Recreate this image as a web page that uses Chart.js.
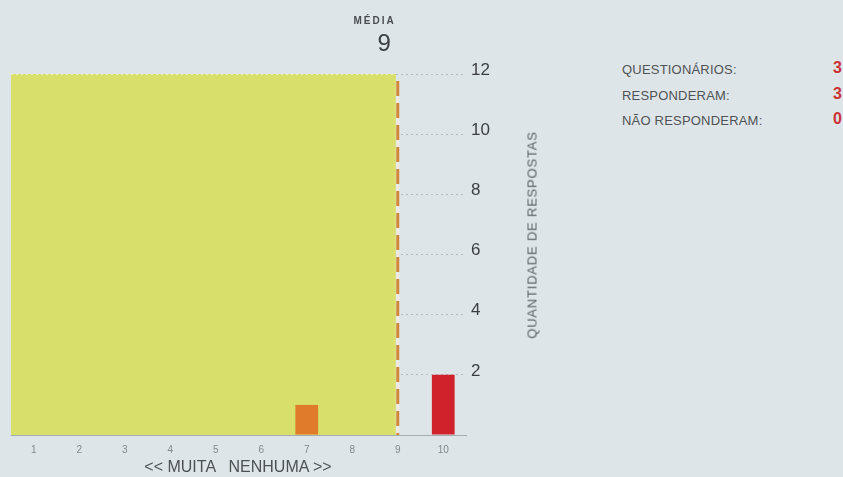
<!DOCTYPE html>
<html lang="pt-BR">
<head>
<meta charset="utf-8">
<title>Quantidade de respostas</title>
<script src="https://cdn.jsdelivr.net/npm/chart.js@4.4.1/dist/chart.umd.min.js"></script>
<style>
    html, body { margin: 0; padding: 0; }
    body {
        width: 843px; height: 477px; position: relative; overflow: hidden;
        background: #dde5e8;
        font-family: 'Liberation Sans', Arial, sans-serif;
        color: #4a4d50;
    }
    #grafico { position: absolute; left: 0; top: 0; }
    .titulo-y {
        position: absolute; left: 532px; top: 235px;
        transform: translate(-50%, -50%) rotate(-90deg);
        font-size: 13px; letter-spacing: 0.8px; white-space: nowrap; color: #5a5e61;
    }
    .titulo-x {
        position: absolute; left: 238px; top: 467px;
        transform: translate(-50%, -50%);
        font-size: 16px; white-space: pre; color: #4e5154;
    }
    .resumo { position: absolute; left: 622px; top: 59px; }
    .resumo-linha { position: relative; height: 25.5px; width: 221px; }
    .resumo-rotulo {
        position: absolute; left: 0; top: 3px;
        font-size: 13px; letter-spacing: 0.2px; color: #505356;
    }
    .resumo-valor {
        position: absolute; right: 1px; top: 0;
        font-size: 16px; font-weight: bold; color: #cc3136;
    }
</style>
</head>
<body>
<canvas id="grafico" width="560" height="477"></canvas>
<div class="titulo-y">QUANTIDADE DE RESPOSTAS</div>
<div class="titulo-x" id="tituloX"></div>
<div class="resumo" id="resumo"></div>

<script>
// Dados do gráfico
const categorias = ['1', '2', '3', '4', '5', '6', '7', '8', '9', '10'];
const respostas = [0, 0, 0, 0, 0, 0, 1, 0, 0, 2];
const media = 9;
const rotuloMedia = 'MÉDIA';
const escalaY = { min: 0, max: 12, passo: 2 };
const tituloEixoX = '<< MUITA   NENHUMA >>';
const resumoRotulos = ['QUESTIONÁRIOS:', 'RESPONDERAM:', 'NÃO RESPONDERAM:'];
const resumoValores = [3, 3, 0];

// Cores por nota (estilo)
const coresEscala = ['#d0222a', '#d0222a', '#d0222a', '#df7b2b', '#df7b2b', '#df7b2b', '#df7b2b', '#df7b2b', '#d0222a', '#d0222a'];

// Faixa amarela até a média + linha tracejada + rótulo da média
const faixaMedia = {
    id: 'faixaMedia',
    beforeDatasetsDraw(chart) {
        const { ctx, chartArea, scales: { x, y } } = chart;
        const xm = x.getPixelForValue(media - 1);
        const topo = y.getPixelForValue(y.max);
        const base = y.getPixelForValue(0);
        ctx.save();
        ctx.fillStyle = '#d8df6a';
        ctx.fillRect(chartArea.left, topo, xm - 2 - chartArea.left, base - topo);
        // borda superior pontilhada clara
        ctx.strokeStyle = 'rgba(255,255,255,0.55)';
        ctx.lineWidth = 1;
        ctx.setLineDash([2, 3]);
        ctx.beginPath(); ctx.moveTo(chartArea.left, topo + 0.5); ctx.lineTo(xm - 2, topo + 0.5); ctx.stroke();
        ctx.restore();
    },
    afterDatasetsDraw(chart) {
        const { ctx, scales: { x, y } } = chart;
        const xm = x.getPixelForValue(media - 1);
        const topo = y.getPixelForValue(y.max) + 7;
        const base = y.getPixelForValue(0);
        ctx.save();
        ctx.lineWidth = 3;
        ctx.strokeStyle = 'rgba(245,235,225,0.8)';
        ctx.beginPath(); ctx.moveTo(xm, topo); ctx.lineTo(xm, base); ctx.stroke();
        ctx.strokeStyle = '#d08838';
        ctx.setLineDash([15, 7]);
        ctx.beginPath(); ctx.moveTo(xm, topo); ctx.lineTo(xm, base); ctx.stroke();
        ctx.setLineDash([]);

        ctx.textAlign = 'right';
        ctx.textBaseline = 'middle';
        ctx.fillStyle = '#4a4d50';
        ctx.font = 'bold 10px "Liberation Sans", Arial, sans-serif';
        ctx.letterSpacing = '2px';
        ctx.fillText(rotuloMedia, xm - 2, 21);
        ctx.letterSpacing = '0px';
        ctx.font = '24px "Liberation Sans", Arial, sans-serif';
        ctx.fillStyle = '#3e4144';
        ctx.fillText(String(media), xm - 7, 44);
        ctx.restore();
    }
};

new Chart(document.getElementById('grafico'), {
    type: 'bar',
    data: {
        labels: categorias,
        datasets: [{
            data: respostas,
            backgroundColor: ctx => coresEscala[ctx.dataIndex],
            borderWidth: 0,
            barPercentage: 0.5,
            categoryPercentage: 1
        }]
    },
    options: {
        responsive: false,
        animation: false,
        layout: { padding: { left: 11, top: 74, right: 0, bottom: 0 } },
        plugins: { legend: { display: false }, tooltip: { enabled: false } },
        scales: {
            x: {
                grid: { display: true, color: 'rgba(0,0,0,0)', drawTicks: false },
                border: { display: true, color: '#a6adb1', width: 1 },
                ticks: { color: '#85898c', font: { family: 'Liberation Sans', size: 10 }, padding: 9 },
                afterFit(s) { s.height = 42; }
            },
            y: {
                position: 'right',
                min: escalaY.min,
                max: escalaY.max,
                grid: { color: 'rgba(150,158,163,0.55)', drawTicks: false },
                border: { display: false, dash: [2, 3] },
                ticks: {
                    stepSize: escalaY.passo,
                    padding: 5,
                    labelOffset: -4,
                    color: '#3c3f42',
                    font: { family: 'Liberation Sans', size: 17 },
                    callback: v => (v === 0 ? '' : v)
                },
                afterFit(s) { s.width = 94; }
            }
        }
    },
    plugins: [faixaMedia]
});

document.getElementById('tituloX').textContent = tituloEixoX;
document.getElementById('resumo').innerHTML = resumoRotulos.map((r, i) => `
    <div class="resumo-linha">
        <span class="resumo-rotulo">${r}</span>
        <span class="resumo-valor">${resumoValores[i]}</span>
    </div>`).join('');
</script>
</body>
</html>
